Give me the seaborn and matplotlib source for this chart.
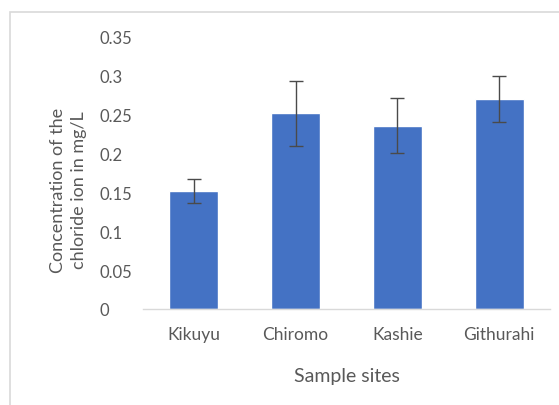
import matplotlib
matplotlib.use("Agg")
import matplotlib.pyplot as plt
import seaborn as sns
import pandas as pd
from matplotlib.patches import Rectangle

sites = ["Kikuyu", "Chiromo", "Kashie", "Githurahi"]
concentration = [0.152, 0.252, 0.236, 0.270]
std_err = [0.015, 0.042, 0.035, 0.030]
y_ticks = [0, 0.05, 0.1, 0.15, 0.2, 0.25, 0.3, 0.35]
y_tick_labels = ["0", "0.05", "0.1", "0.15", "0.2", "0.25", "0.3", "0.35"]

sns.set_theme(style="white")
plt.rcParams["font.family"] = ["Lato", "DejaVu Sans"]

text_color = "#595959"
bar_color = "#4472C4"

df = pd.DataFrame({"site": sites, "conc": concentration})

fig = plt.figure(figsize=(5.59, 4.06), dpi=100)
fig.patch.set_facecolor("white")
fig.patches.append(Rectangle((10 / 559, -0.1), 1.2, 1 - 13 / 406 + 0.1,
                             transform=fig.transFigure, fill=False,
                             edgecolor="#D9D9D9", linewidth=1.2, zorder=0))

ax = fig.add_axes([143 / 559, 1 - 310 / 406, (550 - 143) / 559, (310 - 38) / 406])
sns.barplot(data=df, x="site", y="conc", color=bar_color, saturation=1,
            width=0.48, errorbar=None, ax=ax)
ax.errorbar(x=range(len(sites)), y=concentration, yerr=std_err, fmt="none",
            ecolor="#4a4a4a", elinewidth=1.0, capsize=5, capthick=1.0)

ax.set_ylim(0, 0.35)
ax.set_xlim(-0.5, len(sites) - 0.5)
ax.set_yticks(y_ticks)
ax.set_yticklabels(y_tick_labels, ha="left")
ax.tick_params(axis="both", colors=text_color, labelsize=12.5, length=0)
ax.tick_params(axis="y", labelsize=12, pad=31)
ax.tick_params(axis="x", pad=12)
for s in ["top", "right", "left"]:
    ax.spines[s].set_visible(False)
ax.spines["bottom"].set_color("#D9D9D9")
ax.spines["bottom"].set_linewidth(1.0)

ax.set_xlabel("Sample sites", color=text_color, fontsize=14)
ax.xaxis.label.set_va("center")
ax.xaxis.set_label_coords(0.501, -0.246)
ax.set_ylabel("Concentration of the\nchloride ion in mg/L", color=text_color,
              fontsize=13, linespacing=1.45)
ax.yaxis.label.set_va("center")
ax.yaxis.set_label_coords(-0.183, 0.44)

fig.savefig("out.png", dpi=100)
